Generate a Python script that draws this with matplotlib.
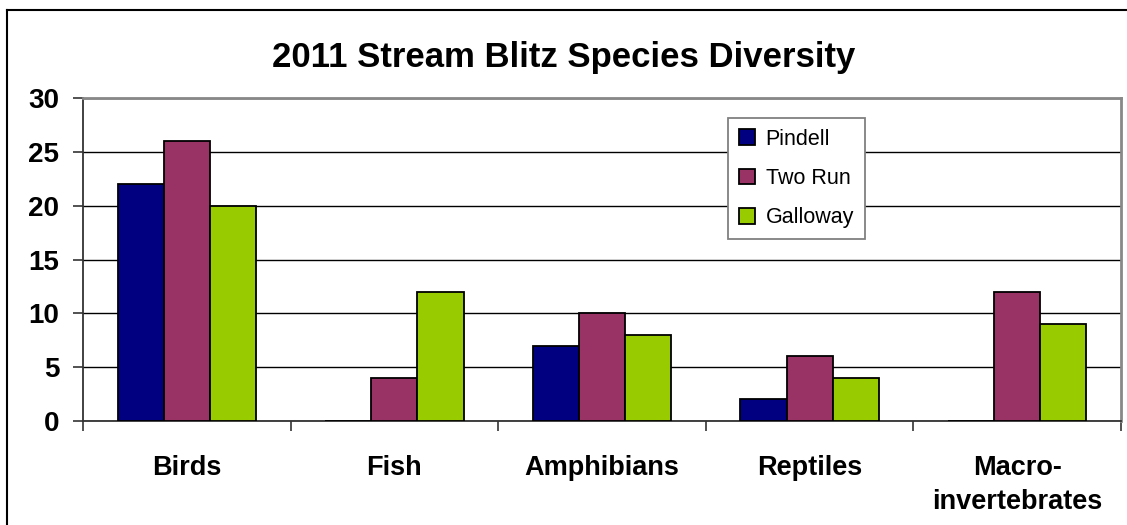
import matplotlib
matplotlib.use('Agg')
import numpy as np
from matplotlib import pyplot as plt
from matplotlib.lines import Line2D

plt.rcParams['font.family'] = ['Liberation Sans', 'DejaVu Sans']

categories = ['Birds', 'Fish', 'Amphibians', 'Reptiles', 'Macro-\ninvertebrates']
pindell = [22, 0, 7, 2, 0]
two_run = [26, 4, 10, 6, 12]
galloway = [20, 12, 8, 4, 9]

series = [('Pindell', pindell, '#000080'),
          ('Two Run', two_run, '#993366'),
          ('Galloway', galloway, '#99CC00')]

W, H = 1127, 525
fig = plt.figure(figsize=(W / 100, H / 100), dpi=100)
ax = fig.add_axes([83 / W, 1 - 421 / H, (1121 - 83) / W, (421 - 98) / H])

x = np.arange(len(categories))
width = 1 / 4.5  # Excel gap width 150%
for i, (name, vals, color) in enumerate(series):
    ax.bar(x + (i - 1) * width, vals, width, color=color, edgecolor='black',
           linewidth=1.3, label=name, zorder=3)

ax.set_xlim(-0.5, len(categories) - 0.5)
ax.set_ylim(0, 30)
ax.set_yticks(range(0, 31, 5))
ax.yaxis.grid(True, color='black', linewidth=1.0, zorder=0)

# ticks between categories, labels at the centres
ax.set_xticks(np.arange(len(categories) + 1) - 0.5)
ax.set_xticklabels([])
ax.set_xticks(x, minor=True)
ax.set_xticklabels(categories, minor=True, fontsize=19.5, fontweight='bold',
                   linespacing=1.38)
ax.tick_params(axis='x', which='major', direction='out', length=7, width=1.2, color='#333333')
ax.tick_params(axis='x', which='minor', length=0, pad=24.5)
ax.tick_params(axis='y', direction='out', length=7, width=1.2, pad=10, color='#333333')
for lab in ax.get_yticklabels():
    lab.set_fontsize(20)
    lab.set_fontweight('bold')

for side in ('top', 'right'):
    ax.spines[side].set_color('#888888')
    ax.spines[side].set_linewidth(2)
for side in ('left', 'bottom'):
    ax.spines[side].set_color('#333333')
    ax.spines[side].set_linewidth(1.3)

fig.suptitle('2011 Stream Blitz Species Diversity', fontsize=25, fontweight='bold',
             y=1 - 58 / H, va='center')

leg = ax.legend(loc='upper left', bbox_to_anchor=(728 / W, 1 - 118 / H),
                bbox_transform=fig.transFigure, fontsize=15.5, fancybox=False,
                handlelength=0.75, handleheight=0.75, handletextpad=0.5,
                labelspacing=0.85, borderpad=0.5, borderaxespad=0, framealpha=1)
leg.get_frame().set_edgecolor('#808080')
leg.get_frame().set_linewidth(1.3)

# chart-area border (left and top, as in the source)
fig.add_artist(Line2D([7 / W, 7 / W], [0, 1 - 10 / H], color='black', linewidth=1.5,
                      transform=fig.transFigure))
fig.add_artist(Line2D([7 / W, 1], [1 - 10 / H, 1 - 10 / H], color='black', linewidth=1.5,
                      transform=fig.transFigure))

fig.savefig('out.png', dpi=100)
